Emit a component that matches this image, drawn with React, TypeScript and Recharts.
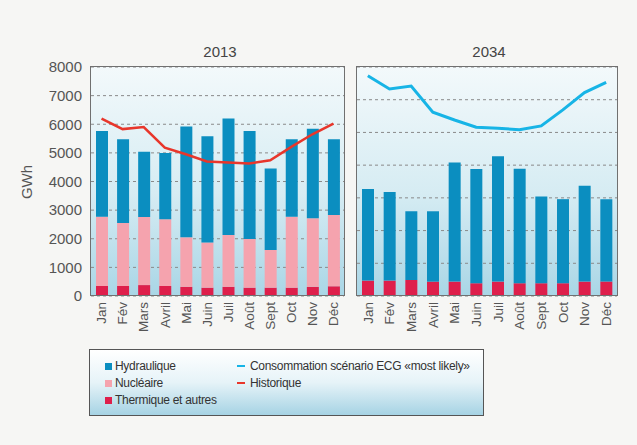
import React from 'react';
import { ComposedChart, Bar, Line, XAxis, YAxis, CartesianGrid } from 'recharts';

const months = ['Jan', 'Fév', 'Mars', 'Avril', 'Mai', 'Juin', 'Juil', 'Août', 'Sept', 'Oct', 'Nov', 'Déc'];

// 2013 (GWh)
const thermique2013 = [350, 350, 380, 350, 320, 290, 320, 290, 290, 290, 320, 340];
const nucleaire2013 = [2420, 2200, 2380, 2330, 1730, 1580, 1810, 1700, 1320, 2480, 2400, 2490];
const hydraulique2013 = [2990, 2930, 2280, 2320, 3870, 3710, 4070, 3770, 2840, 2710, 3120, 2650];
const historique2013 = [6200, 5830, 5900, 5180, 4950, 4700, 4660, 4630, 4740, 5210, 5650, 6020];

// 2034 (panel has its own, unlabelled scale)
const thermique2034 = [470, 470, 490, 440, 440, 390, 440, 390, 390, 390, 440, 440];
const hydraulique2034 = [2800, 2710, 2100, 2150, 3640, 3490, 3830, 3500, 2650, 2570, 2930, 2520];
const consommation2034 = [6730, 6330, 6420, 5620, 5380, 5160, 5130, 5080, 5200, 5690, 6220, 6530];

const ticks2013 = [0, 1000, 2000, 3000, 4000, 5000, 6000, 7000, 8000];
const ticks2034 = [0, 1000, 2000, 3000, 4000, 5000, 6000, 7000];

const C_HYDRO = '#0b8ec0';
const C_NUC = '#f5a3ae';
const C_THERM = '#de1f4b';
const C_HIST = '#e8362b';
const C_CONSO = '#17b4e6';
const FONT = '"Liberation Sans", Arial, sans-serif';

const data2013 = months.map((m, i) => ({
  month: m,
  thermique: thermique2013[i],
  nucleaire: nucleaire2013[i],
  hydraulique: hydraulique2013[i],
  historique: historique2013[i],
}));

const data2034 = months.map((m, i) => ({
  month: m,
  thermique: thermique2034[i],
  hydraulique: hydraulique2034[i],
  consommation: consommation2034[i],
}));

const MonthTick = (props: any) => {
  const { x, y, payload } = props;
  return (
    <text
      x={x}
      y={y}
      transform={`rotate(-90, ${x}, ${y})`}
      textAnchor="end"
      dy="0.35em"
      fontSize={13.5}
      fill="#555"
      fontFamily={FONT}
    >
      {payload.value}
    </text>
  );
};

const panelBg: React.CSSProperties = {
  position: 'absolute',
  top: 67,
  height: 229,
  background: 'linear-gradient(to bottom, #f3f9fb 0%, #d6ecf3 55%, #a9d6e6 100%)',
};

const panelBorder: React.CSSProperties = {
  position: 'absolute',
  top: 66,
  height: 230,
  border: '1px solid #707070',
  boxSizing: 'border-box',
  pointerEvents: 'none',
};

const title: React.CSSProperties = {
  position: 'absolute',
  top: 43,
  width: 80,
  textAlign: 'center',
  fontSize: 15,
  color: '#444',
  fontFamily: FONT,
};

const legendRow: React.CSSProperties = {
  position: 'absolute',
  fontSize: 12,
  letterSpacing: -0.3,
  color: '#333',
  fontFamily: FONT,
  lineHeight: '14px',
  whiteSpace: 'nowrap',
};

const Swatch = ({ color }: { color: string }) => (
  <span style={{ display: 'inline-block', width: 7, height: 7, background: color, marginRight: 3, verticalAlign: 0 }} />
);

const Dash = ({ color }: { color: string }) => (
  <span style={{ display: 'inline-block', width: 8, height: 2, background: color, marginRight: 5, verticalAlign: 3 }} />
);

export default function App() {
  return (
    <div style={{ position: 'absolute', left: 0, top: 0, width: 637, height: 445, background: '#f6f6f4', overflow: 'hidden' }}>
      <div style={{ ...title, left: 180 }}>2013</div>
      <div style={{ ...title, left: 449 }}>2034</div>

      <div
        style={{
          position: 'absolute',
          left: 28 - 20,
          top: 182 - 10,
          width: 40,
          height: 20,
          textAlign: 'center',
          transform: 'rotate(-90deg)',
          fontSize: 15,
          color: '#555',
          fontFamily: FONT,
        }}
      >
        GWh
      </div>

      <div style={{ ...panelBg, left: 91, width: 253 }} />
      <div style={{ ...panelBg, left: 357, width: 260 }} />

      <div style={{ position: 'absolute', left: 0, top: 0 }}>
        <ComposedChart width={350} height={360} data={data2013} margin={{ top: 67, right: 6, bottom: 4, left: 0 }}>
          <CartesianGrid vertical={false} stroke="#8a8a8a" strokeDasharray="3 3" />
          <XAxis dataKey="month" height={60} tick={<MonthTick />} tickLine={false} axisLine={false} tickSize={0} tickMargin={6} interval={0} />
          <YAxis
            domain={[0, 8000]}
            ticks={ticks2013}
            width={91}
            tickLine={false}
            axisLine={false}
            tickSize={0}
            tickMargin={9}
            tick={{ fontSize: 15, fill: '#555', fontFamily: FONT }}
          />
          <Bar dataKey="thermique" stackId="a" fill={C_THERM} barSize={12} isAnimationActive={false} />
          <Bar dataKey="nucleaire" stackId="a" fill={C_NUC} barSize={12} isAnimationActive={false} />
          <Bar dataKey="hydraulique" stackId="a" fill={C_HYDRO} barSize={12} isAnimationActive={false} />
          <Line dataKey="historique" type="linear" stroke={C_HIST} strokeWidth={2.5} dot={false} isAnimationActive={false} />
        </ComposedChart>
      </div>

      <div style={{ position: 'absolute', left: 350, top: 0 }}>
        <ComposedChart width={280} height={360} data={data2034} margin={{ top: 67, right: 13, bottom: 4, left: 7 }}>
          <CartesianGrid vertical={false} stroke="#8a8a8a" strokeDasharray="3 3" />
          <XAxis dataKey="month" height={60} tick={<MonthTick />} tickLine={false} axisLine={false} tickSize={0} tickMargin={6} interval={0} />
          <YAxis domain={[0, 7000]} ticks={ticks2034} hide />
          <Bar dataKey="thermique" stackId="b" fill={C_THERM} barSize={12} isAnimationActive={false} />
          <Bar dataKey="hydraulique" stackId="b" fill={C_HYDRO} barSize={12} isAnimationActive={false} />
          <Line dataKey="consommation" type="linear" stroke={C_CONSO} strokeWidth={3} dot={false} isAnimationActive={false} />
        </ComposedChart>
      </div>

      <div style={{ ...panelBorder, left: 90, width: 255 }} />
      <div style={{ ...panelBorder, left: 356, width: 262 }} />

      <div
        style={{
          position: 'absolute',
          left: 89,
          top: 349,
          width: 395,
          height: 67,
          border: '1px solid #555',
          boxSizing: 'border-box',
          background: 'linear-gradient(to bottom, #ffffff 0%, #e6f3f8 50%, #a6d3e4 100%)',
        }}
      >
        <div style={{ ...legendRow, left: 15, top: 9 }}><Swatch color={C_HYDRO} />Hydraulique</div>
        <div style={{ ...legendRow, left: 15, top: 26 }}><Swatch color={C_NUC} />Nucléaire</div>
        <div style={{ ...legendRow, left: 15, top: 43 }}><Swatch color={C_THERM} />Thermique et autres</div>
        <div style={{ ...legendRow, left: 147, top: 9 }}><Dash color={C_CONSO} />Consommation scénario ECG «most likely»</div>
        <div style={{ ...legendRow, left: 147, top: 26 }}><Dash color={C_HIST} />Historique</div>
      </div>
    </div>
  );
}
